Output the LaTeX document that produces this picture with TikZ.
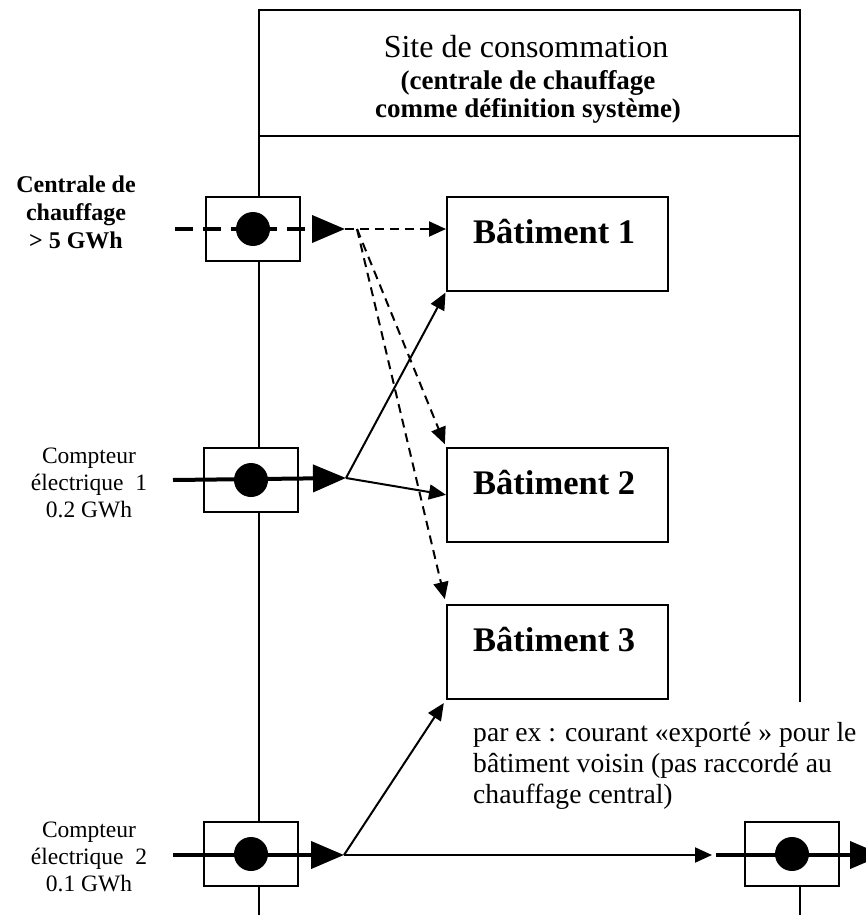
\documentclass[tikz,border=0pt]{standalone}
\usepackage{fontspec}
\setmainfont{Liberation Serif}
\usetikzlibrary{arrows.meta}
\begin{document}
\begin{tikzpicture}[x=1pt,y=-1pt,
  frame/.style={line width=1.7pt},
  meter/.style={draw, line width=1.7pt, fill=white, minimum width=94pt, minimum height=64pt, inner sep=0pt},
  dot/.style={circle, fill=black, minimum size=34pt, inner sep=0pt},
  bldg/.style={draw, line width=1.7pt, minimum width=221pt, minimum height=94pt, anchor=north west, inner sep=0pt},
  btxt/.style={font=\bfseries\fontsize{34.5}{38}\selectfont, anchor=base west, inner sep=0pt},
  flow/.style={line width=4pt, -{Triangle[length=33pt,width=27pt]}},
  heatflow/.style={flow, dash pattern=on 18pt off 10pt},
  conn/.style={line width=2pt, -{Triangle[length=17pt,width=15pt]}},
  dconn/.style={conn, dash pattern=on 9pt off 6pt},
  lbl/.style={font=\fontsize{23.5}{27}\selectfont, align=center},
  blbl/.style={font=\bfseries\fontsize{24}{28}\selectfont, align=center}
]
\useasboundingbox (0,0) rectangle (866,915);
\clip (0,0) rectangle (866,915);

% frame
\draw[frame] (259,915) -- (259,10) -- (800,10) -- (800,702);
\draw[frame] (800,885) -- (800,915);
\draw[frame] (259,136) -- (800,136);

% header
\node[font=\fontsize{32}{36}\selectfont] (title) at (526,47) {Site de consommation};
\node[font=\bfseries\fontsize{27}{28}\selectfont, align=center] (sub) at (528,97) {(centrale de chauffage\\comme définition système)};

% buildings
\node[bldg] (b1) at (446,196) {};
\node[bldg] (b2) at (446,447) {};
\node[bldg] (b3) at (446,604) {};
\node[btxt] (t1) at (473,243) {Bâtiment 1};
\node[btxt] (t2) at (473,494) {Bâtiment 2};
\node[btxt] (t3) at (473,651) {Bâtiment 3};

% meters
\node[meter] (m0) at (253,229) {};
\node[meter] (m1) at (251,480) {};
\node[meter] (m2) at (251,854) {};
\node[meter] (m3) at (792,854) {};

% coordinates
\coordinate (in0) at (175,229);
\coordinate (in1) at (173,480);
\coordinate (in2) at (173,855);
\coordinate (j0) at (345,229);
\coordinate (k0) at (357,229);
\coordinate (j1) at (346,478);
\coordinate (j2) at (344,855);
\coordinate (o2) at (712,855);
\coordinate (i3) at (716,855);
\coordinate (out3) at (883,855);

% flows
\draw[heatflow] (in0) -- (j0);
\draw[flow] (in1) -- (j1);
\draw[flow] (in2) -- (j2);
\draw[flow] (i3) -- (out3);

% dots
\node[dot] (d0) at (m0.center) {};
\node[dot] (d1) at (m1.center) {};
\node[dot] (d2) at (m2.center) {};
\node[dot] (d3) at (m3.center) {};

% connectors
\draw[dconn] (j0) -- (b1.west |- j0);
\draw[dconn, shorten >=3pt] (k0) -- (b2.north west);
\draw[dconn, shorten >=5pt] (k0) -- (b3.north west);
\draw[conn, shorten >=1pt] (j1) -- (b1.south west);
\draw[conn] (j1) -- (b2.west);
\draw[conn, shorten >=4pt] (j2) -- (b3.south west);
\draw[conn] (j2) -- (o2);

% labels
\node[blbl] (l0) at (76,212) {Centrale de\\chauffage\\> 5 GWh};
\node[lbl] (l1) at (89,483) {Compteur\\électrique\ \ 1\\0.2 GWh};
\node[lbl] (l2) at (89,857) {Compteur\\électrique\ \ 2\\0.1 GWh};
\node[font=\fontsize{27.6}{31}\selectfont, align=left, anchor=north west, inner sep=0pt] (ex) at (473,722) {par ex : courant «exporté » pour le\\bâtiment voisin (pas raccordé au\\chauffage central)};
\end{tikzpicture}
\end{document}
